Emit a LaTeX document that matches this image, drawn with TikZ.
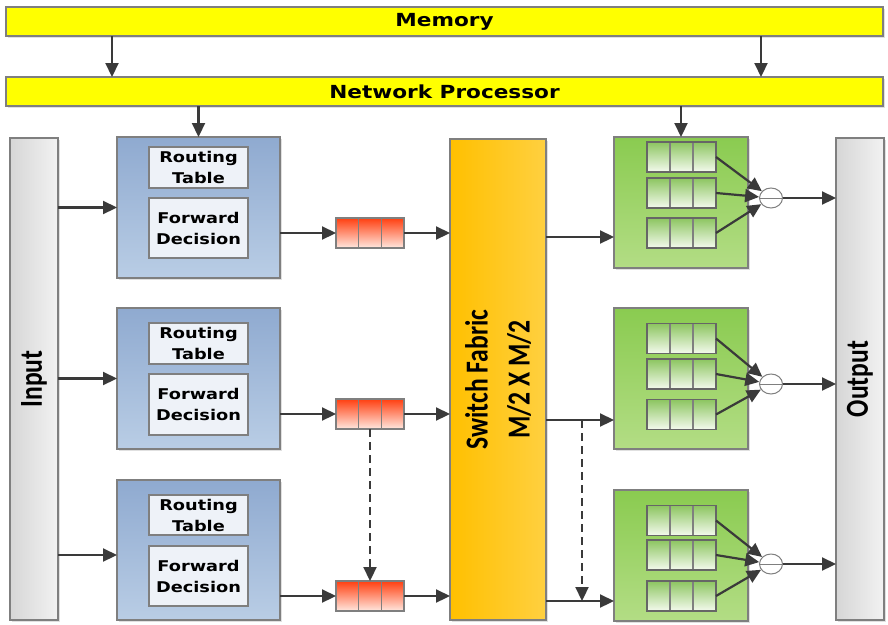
\documentclass[tikz,border=0pt]{standalone}
\usepackage{fontspec}
\usetikzlibrary{arrows.meta,shadows,calc,shapes.geometric}
\newfontfamily\boxfont{DejaVu Sans}[FakeStretch=1.2]
\newfontfamily\barfont{Carlito}[FakeStretch=0.8]

\definecolor{edge}{HTML}{7F7F7F}
\definecolor{ink}{HTML}{3A3A3A}
\definecolor{barYellow}{HTML}{FFFF00}
\definecolor{blueTop}{HTML}{8FAAD0}
\definecolor{blueBot}{HTML}{B9CDE5}
\definecolor{innerFill}{HTML}{EEF2F8}
\definecolor{redTop}{HTML}{FF3F10}
\definecolor{redBot}{HTML}{FFE8E0}
\definecolor{swLeft}{HTML}{FFC000}
\definecolor{swRight}{HTML}{FFD040}
\definecolor{greenTop}{HTML}{8ACB50}
\definecolor{greenBot}{HTML}{B3DD85}
\definecolor{gqTop}{HTML}{8CC560}
\definecolor{gqBot}{HTML}{F4FAEE}
\definecolor{ioLeft}{HTML}{D6D6D6}
\definecolor{ioRight}{HTML}{F2F2F2}

\tikzset{
  softshadow/.style={drop shadow={shadow xshift=1.5pt,shadow yshift=-1.5pt,opacity=0.2,fill=black!60}},
  plainbox/.style={rectangle,draw=edge,line width=1.1pt,inner sep=0pt,outer sep=0pt},
  ybar/.style={plainbox,fill=barYellow,minimum width=877pt,minimum height=29pt,
    font=\boxfont\bfseries\fontsize{18}{20}\selectfont,softshadow},
  iobar/.style={plainbox,left color=ioLeft,right color=ioRight,minimum width=48pt,minimum height=482pt,softshadow},
  switchbox/.style={plainbox,left color=swLeft,right color=swRight,minimum width=96pt,minimum height=481pt,softshadow},
  lookup/.style={plainbox,top color=blueTop,bottom color=blueBot,minimum width=163pt,softshadow},
  innerbox/.style={plainbox,fill=innerFill,minimum width=99pt,align=center,
    font=\boxfont\bfseries\fontsize{14.8}{21}\selectfont},
  threecells/.style={path picture={
      \foreach \f in {1,2}
        \draw[edge,line width=1.1pt]
          ($(path picture bounding box.north west)!\f/3!(path picture bounding box.north east)$) --
          ($(path picture bounding box.south west)!\f/3!(path picture bounding box.south east)$);}},
  redq/.style={plainbox,top color=redTop,bottom color=redBot,minimum width=68pt,minimum height=30pt,threecells},
  outport/.style={plainbox,top color=greenTop,bottom color=greenBot,minimum width=134pt,softshadow},
  greenq/.style={plainbox,draw=black!60,top color=gqTop,bottom color=gqBot,minimum width=69pt,minimum height=30pt,threecells},
  merge/.style={ellipse,draw=edge,line width=1pt,fill=white,minimum width=23pt,minimum height=20pt,inner sep=0pt,
    path picture={\draw[edge,line width=0.9pt] (path picture bounding box.west) -- (path picture bounding box.east);}},
  vtext/.style={rotate=90,align=center,font=\barfont\bfseries\fontsize{32}{42}\selectfont},
  arr/.style={draw=ink,line width=2.2pt,-{Triangle[length=14pt,width=13pt]}},
  dasharr/.style={arr,dash pattern=on 8pt off 5pt}
}

\begin{document}
\begin{tikzpicture}[x=1pt,y=-1pt]
\useasboundingbox (0,0) rectangle (888,624);

% memory and network processor
\node[ybar] (mem) at (444.5,21.5) {Memory};
\node[ybar] (np)  at (444.5,91.5) {Network Processor};

% input / output ports and switch fabric
\node[iobar] (in)  at (34,379) {};
\node[vtext] at (in.center) {Input};
\node[iobar] (out) at (860,379) {};
\node[vtext] at (out.center) {Output};
\node[switchbox] (sw) at (498,379.5) {};
\node[vtext] at (sw.center) {Switch Fabric\\M/2 X M/2};

% lookup blocks
\node[lookup,minimum height=141pt] (b1) at (198.5,207.5) {};
\node[innerbox,minimum height=41pt] (rt1) at (198.5,167.5) {Routing\\Table};
\node[innerbox,minimum height=60pt] (fd1) at (198.5,228) {Forward\\Decision};

\node[lookup,minimum height=141pt] (b2) at (198.5,378.5) {};
\node[innerbox,minimum height=41pt] (rt2) at (198.5,343.5) {Routing\\Table};
\node[innerbox,minimum height=61pt] (fd2) at (198.5,404.5) {Forward\\Decision};

\node[lookup,minimum height=140pt] (b3) at (198.5,550) {};
\node[innerbox,minimum height=40pt] (rt3) at (198.5,515) {Routing\\Table};
\node[innerbox,minimum height=60pt] (fd3) at (198.5,576) {Forward\\Decision};

% ingress queues
\node[redq] (q1) at (370,233) {};
\node[redq] (q2) at (370,414) {};
\node[redq] (q3) at (370,596) {};

% output port blocks
\node[outport,minimum height=131pt] (g1) at (681,202.5) {};
\node[greenq] (g1a) at (681.5,157) {};
\node[greenq] (g1b) at (681.5,193) {};
\node[greenq] (g1c) at (681.5,233) {};
\node[merge] (m1) at (771,198) {};

\node[outport,minimum height=141pt] (g2) at (681,378.5) {};
\node[greenq] (g2a) at (681.5,338.5) {};
\node[greenq] (g2b) at (681.5,374) {};
\node[greenq] (g2c) at (681.5,414.5) {};
\node[merge] (m2) at (771,384) {};

\node[outport,minimum height=131pt] (g3) at (681,555.5) {};
\node[greenq] (g3a) at (681.5,520.5) {};
\node[greenq] (g3b) at (681.5,555) {};
\node[greenq] (g3c) at (681.5,596) {};
\node[merge] (m3) at (771,564) {};

% helper coordinates
\coordinate (mx1) at (112,0);
\coordinate (mx2) at (761,0);
\coordinate (in3) at (117,555);
\coordinate (g1in) at (614,237);
\coordinate (g2in) at (614,420);
\coordinate (g3in) at (614,601);
\coordinate (split) at (582,420);

% control arrows
\draw[arr] (mem.south -| mx1) -- (np.north -| mx1);
\draw[arr] (mem.south -| mx2) -- (np.north -| mx2);
\draw[arr] (np.south -| b1) -- (b1.north);
\draw[arr] (np.south -| g1) -- (g1.north);

% data path
\draw[arr] (in.east |- b1) -- (b1.west);
\draw[arr] (in.east |- b2) -- (b2.west);
\draw[arr] (in.east |- in3) -- (in3);

\draw[arr] (b1.east |- q1) -- (q1.west);
\draw[arr] (b2.east |- q2) -- (q2.west);
\draw[arr] (b3.east |- q3) -- (q3.west);

\draw[arr] (q1.east) -- (sw.west |- q1);
\draw[arr] (q2.east) -- (sw.west |- q2);
\draw[arr] (q3.east) -- (sw.west |- q3);
\draw[dasharr] (q2.south) -- (q3.north);

\draw[arr] (sw.east |- g1in) -- (g1in);
\draw[arr] (sw.east |- g2in) -- (g2in);
\draw[arr] (sw.east |- g3in) -- (g3in);
\draw[dasharr] (split) -- (split |- g3in);

\foreach \g in {1,2,3}{
  \draw[arr] (g\g a.east) -- (m\g);
  \draw[arr] (g\g b.east) -- (m\g);
  \draw[arr] (g\g c.east) -- (m\g);
  \draw[arr] (m\g.east) -- (out.west |- m\g);
}
\end{tikzpicture}
\end{document}
